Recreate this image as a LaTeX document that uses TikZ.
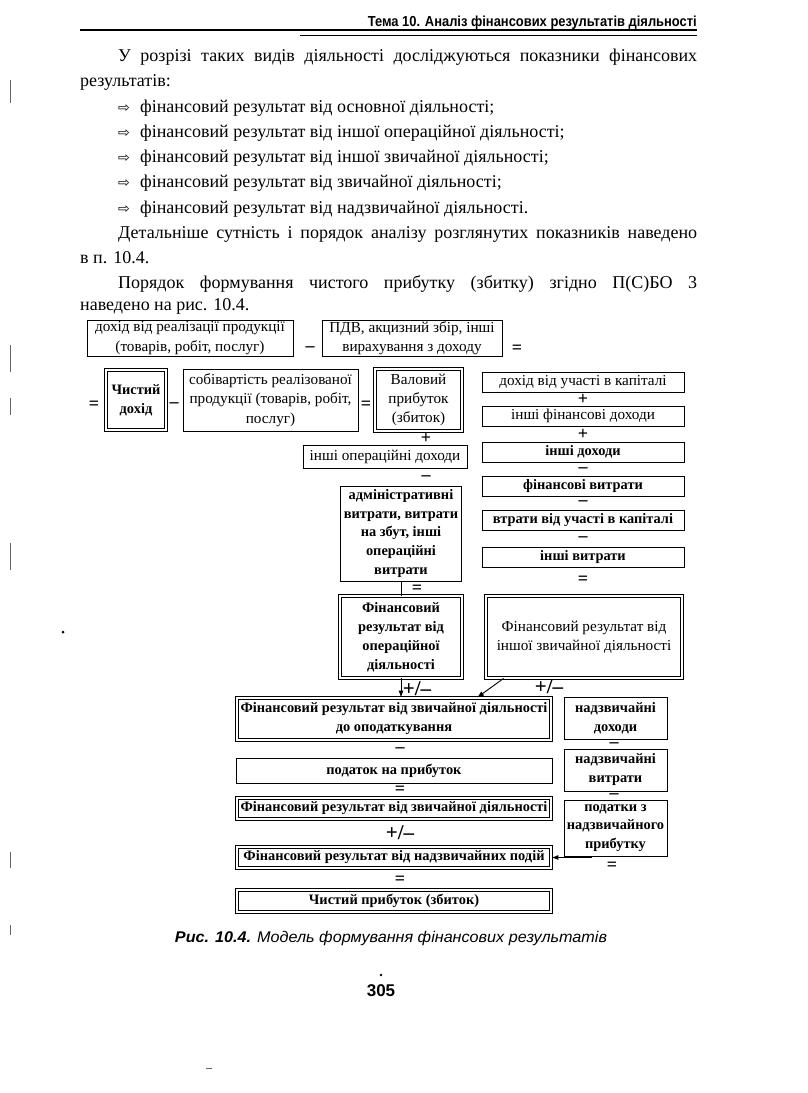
\documentclass[tikz,border=0pt]{standalone}
\usepackage{fontspec}
\setmainfont{Liberation Serif}
\newfontfamily\sansf{Liberation Sans}
\newfontfamily\symf{DejaVu Sans}
\usetikzlibrary{arrows.meta}
\tikzset{
  box/.style={draw, line width=0.9pt, align=center, inner sep=0pt, font=\fontsize{15.2}{19.3}\selectfont},
  bbox/.style={box, font=\fontsize{14.4}{19}\selectfont\bfseries},
  dbl/.style={double, double distance=1.6pt, line width=0.85pt},
  op/.style={inner sep=0pt, font=\fontsize{18}{18}\selectfont\bfseries},
  pmop/.style={inner sep=0pt, font=\fontsize{21}{21}\selectfont\bfseries},
  arr/.style={line width=0.9pt, -{Latex[length=7pt,width=5pt]}},
  body/.style={anchor=base west, inner sep=0pt, font=\fontsize{18}{20}\selectfont},
  artf/.style={line width=0.6pt, black!60},
}
\newcommand{\bul}{\makebox[22pt][l]{\symf\fontsize{14}{14}\selectfont ⇨}}
\newcommand{\pmtext}{+/–}
\begin{document}
\begin{tikzpicture}[x=1pt, y=-1pt]
\fill[white] (0,0) rectangle (808,1093);
\useasboundingbox (0,0) rectangle (808,1093);

% header
\node[anchor=base east, inner sep=0pt] (hdr) at (697,26)
  {\resizebox{329pt}{\height}{\sansf\bfseries\fontsize{14.5}{14.5}\selectfont Тема 10. Аналіз фінансових результатів діяльності}};
\draw[line width=1.6pt] (80,30) -- (697,30);
\draw[line width=0.6pt] (300,35) -- (697,35);

% body text
\node[body] (t1) at (118,61) {\makebox[579pt][s]{У розрізі таких видів діяльності досліджуються показники фінансових}};
\node[body] (t2) at (80,86) {результатів:};
\node[body] (b1) at (118,112) {\bul фінансовий результат від основної діяльності;};
\node[body] (b2) at (118,137) {\bul фінансовий результат від іншої операційної діяльності;};
\node[body] (b3) at (118,162) {\bul фінансовий результат від іншої звичайної діяльності;};
\node[body] (b4) at (118,187) {\bul фінансовий результат від звичайної діяльності;};
\node[body] (b5) at (118,213) {\bul фінансовий результат від надзвичайної діяльності.};
\node[body] (t3) at (118,238) {\makebox[579pt][s]{Детальніше сутність і порядок аналізу розглянутих показників наведено}};
\node[body] (t4) at (80,263) {в п. 10.4.};
\node[body] (t5) at (118,288) {\makebox[579pt][s]{Порядок формування чистого прибутку (збитку) згідно П(С)БО 3}};
\node[body] (t6) at (80,310) {наведено на рис. 10.4.};

% row 1
\node[box, minimum width=206, minimum height=36] (dr) at (190,338) {дохід від реалізації продукції\\(товарів, робіт, послуг)};
\node[op] (m1) at (310,349) {–};
\node[box, minimum width=180, minimum height=36] (pdv) at (412,338) {ПДВ, акцизний збір, інші\\вирахування з доходу};
\node[op] (e1) at (517,349) {=};

% row 2
\node[op] (e2) at (94,405) {=};
\node[bbox, dbl, minimum width=60, minimum height=60] (chd) at (136,400) {Чистий\\дохід};
\node[op] (m2) at (174,405) {–};
\node[box, minimum width=175, minimum height=62] (sob) at (270.5,400) {собівартість реалізованої\\продукції (товарів, робіт,\\послуг)};
\node[op] (e3) at (366,405) {=};
\node[box, dbl, minimum width=87, minimum height=62] (val) at (418.5,400) {Валовий\\прибуток\\(збиток)};

% right column
\node[box, minimum width=202, minimum height=20] (r1) at (583,382) {дохід від участі в капіталі};
\node[op] (p1) at (583,399) {+};
\node[box, minimum width=202, minimum height=20] (r2) at (583,416) {інші фінансові доходи};
\node[op] (p2) at (583,434) {+};
\node[bbox, minimum width=202, minimum height=20] (r3) at (583,452) {інші доходи};
\node[op] (m3) at (583,470) {–};
\node[bbox, minimum width=202, minimum height=20] (r4) at (583,486) {фінансові витрати};
\node[op] (m4) at (583,503) {–};
\node[bbox, minimum width=202, minimum height=20] (r5) at (583,520) {втрати від участі в капіталі};
\node[op] (m5) at (583,539) {–};
\node[bbox, minimum width=202, minimum height=20] (r6) at (583,557) {інші витрати};
\node[op] (e4) at (583,580) {=};

% middle column
\node[op] (p3) at (426,438) {+};
\node[box, minimum width=164, minimum height=23] (iod) at (385,456.5) {інші операційні доходи};
\node[op] (m6) at (426,478) {–};
\node[bbox, minimum width=121, minimum height=95, font=\fontsize{14.4}{18.8}\selectfont\bfseries] (adm) at (401,533.5) {адміністративні\\витрати, витрати\\на збут, інші\\операційні\\витрати};
\node[op] (e5) at (417,589) {=};
\node[bbox, dbl, minimum width=122, minimum height=82] (fop) at (401,637) {Фінансовий\\результат від\\операційної\\діяльності};
\node[box, dbl, minimum width=196, minimum height=82] (fiz) at (584,637) {Фінансовий результат від\\іншої звичайної діяльності};
\draw[line width=0.9pt] (adm.south) -- (fop.north);

% lower column
\node[bbox, dbl, minimum width=314, minimum height=42] (fzd) at (394,719) {Фінансовий результат від звичайної діяльності\\до оподаткування};
\node[pmop] (pm1) at (417,689) {\pmtext};
\node[pmop] (pm2) at (549,687) {\pmtext};
\draw[arr] (fop.south) -- (fzd.north -| fop.south);
\draw[arr] ([xshift=18pt]fiz.south west) -- ([xshift=83pt]fzd.north);
\node[op] (m7) at (400,750) {–};
\node[bbox, minimum width=316, minimum height=25] (tax) at (394,771) {податок на прибуток};
\node[op] (e6) at (400,790) {=};
\node[bbox, dbl, minimum width=314, minimum height=21] (fz) at (394,808.5) {Фінансовий результат від звичайної діяльності};
\node[pmop] (pm3) at (400,833) {\pmtext};
\node[bbox, dbl, minimum width=314, minimum height=21] (fn) at (394,857.5) {Фінансовий результат від надзвичайних подій};
\node[op] (e7) at (400,880) {=};
\node[bbox, dbl, minimum width=314, minimum height=22] (cp) at (394,901) {Чистий прибуток (збиток)};

% right lower column
\node[bbox, minimum width=103, minimum height=42] (nd) at (615.5,718) {надзвичайні\\доходи};
\node[op] (m8) at (614,745) {–};
\node[bbox, minimum width=103, minimum height=42] (nv) at (615.5,770) {надзвичайні\\витрати};
\node[op] (m9) at (614,796) {–};
\node[bbox, minimum width=103, minimum height=56, font=\fontsize{14.4}{18.3}\selectfont\bfseries] (pz) at (615.5,828) {податки з\\надзвичайного\\прибутку};
\node[op] (e8) at (612,866) {=};
\coordinate (fa) at (592,857.5);
\draw[arr] (fa) -- (fn.east);

% caption and page number
\node[inner sep=0pt] (cap) at (391,938)
  {\resizebox{432pt}{\height}{\sansf\fontsize{15.5}{15.5}\selectfont\bfseries\itshape Рис. 10.4. \mdseries Модель формування фінансових результатів}};
\fill (381,975) circle (1.3);
\node[inner sep=0pt] (pg) at (381,991) {\sansf\bfseries\fontsize{17}{17}\selectfont 305};

% scan marks in the margin
\draw[artf] (10,80) -- (10,103);
\draw[artf] (10,345) -- (10,372);
\draw[artf] (10,398) -- (10,415);
\draw[artf] (10,543) -- (10,570);
\draw[artf] (10,852) -- (10,868);
\draw[artf] (10,925) -- (10,935);
\fill (63,632) circle (1.5);
\draw[artf] (206,1068) -- (212,1068);
\end{tikzpicture}
\end{document}
